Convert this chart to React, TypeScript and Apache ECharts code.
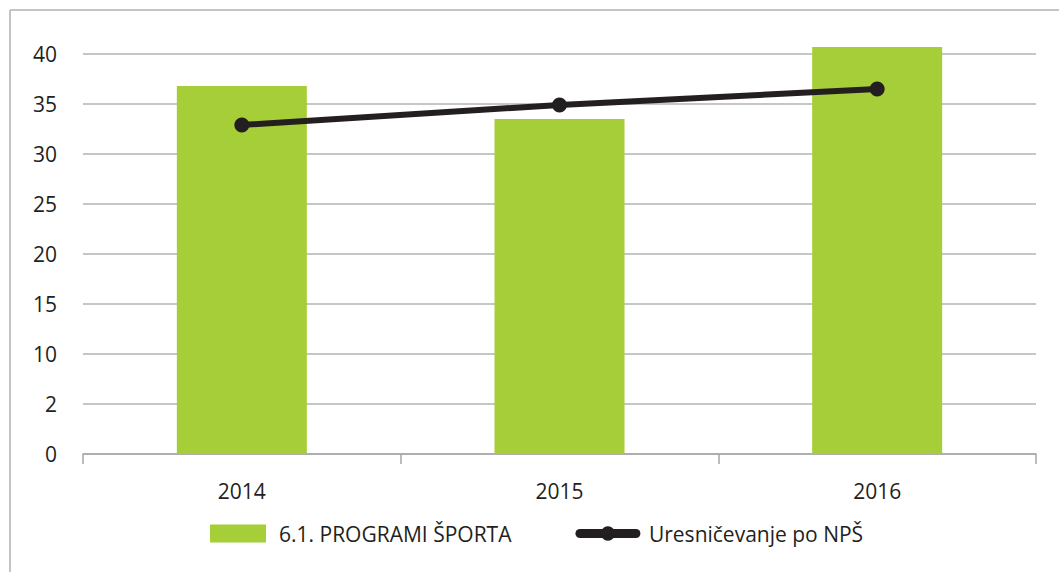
import React, { useEffect, useRef } from "react";
import * as echarts from "echarts";

const categories = ["2014", "2015", "2016"];
const programiSporta = [36.8, 33.5, 40.7];
const uresnicevanje = [32.9, 34.9, 36.5];
const yTickValues = [0, 5, 10, 15, 20, 25, 30, 35, 40];
const yTickLabels = ["0", "2", "10", "15", "20", "25", "30", "35", "40"];
const barName = "6.1. PROGRAMI ŠPORTA";
const lineName = "Uresničevanje po NPŠ";

const FONT = "'Open Sans', 'Noto Sans', sans-serif";
const TEXT = "#231f20";

export default function App() {
  const ref = useRef<HTMLDivElement>(null);
  useEffect(() => {
    if (!ref.current) return;
    const chart = echarts.init(ref.current, null, { renderer: "svg" });
    chart.setOption({
      animation: false,
      backgroundColor: "#ffffff",
      textStyle: { fontFamily: FONT },
      graphic: [
        { type: "line", shape: { x1: 10, y1: 10, x2: 1059, y2: 10 }, style: { stroke: "#b0b0b0", lineWidth: 1.5 } },
        { type: "line", shape: { x1: 10, y1: 10, x2: 10, y2: 572 }, style: { stroke: "#b0b0b0", lineWidth: 1.5 } },
      ],
      grid: { left: 83, right: 23, top: 54, bottom: 118, containLabel: false },
      legend: {
        top: 518,
        left: 205,
        itemGap: 64,
        itemWidth: 56,
        itemHeight: 18,
        textStyle: { fontSize: 21, color: TEXT, fontFamily: FONT, padding: [0, 0, 0, 8] },
        data: [
          { name: barName, icon: "rect" },
          { name: lineName, lineStyle: { width: 9, cap: "round" } },
        ],
      },
      xAxis: {
        type: "category",
        data: categories,
        axisLine: { lineStyle: { color: "#a6a6a6", width: 1.5 } },
        axisTick: { show: true, length: 10, lineStyle: { color: "#a6a6a6", width: 1.5 } },
        axisLabel: { color: TEXT, fontSize: 21, margin: 26, fontFamily: FONT },
      },
      yAxis: {
        type: "value",
        min: 0,
        max: 40,
        interval: 5,
        axisLine: { show: false },
        axisTick: { show: false },
        splitLine: { lineStyle: { color: "#b3b3b3", width: 1.5 } },
        axisLabel: {
          color: TEXT,
          fontSize: 21,
          margin: 26,
          fontFamily: FONT,
          formatter: (v: number) => {
            const i = yTickValues.indexOf(v);
            return i >= 0 ? yTickLabels[i] : "";
          },
        },
      },
      series: [
        {
          name: barName,
          type: "bar",
          data: programiSporta,
          barWidth: 130,
          clip: false,
          itemStyle: { color: "#a6ce39" },
        },
        {
          name: lineName,
          type: "line",
          data: uresnicevanje,
          symbol: "circle",
          symbolSize: 15,
          lineStyle: { color: TEXT, width: 6 },
          itemStyle: { color: TEXT },
        },
      ],
    });
    return () => chart.dispose();
  }, []);
  return (
    <div
      ref={ref}
      style={{ position: "fixed", left: 0, top: 0, width: 1059, height: 572 }}
    />
  );
}
